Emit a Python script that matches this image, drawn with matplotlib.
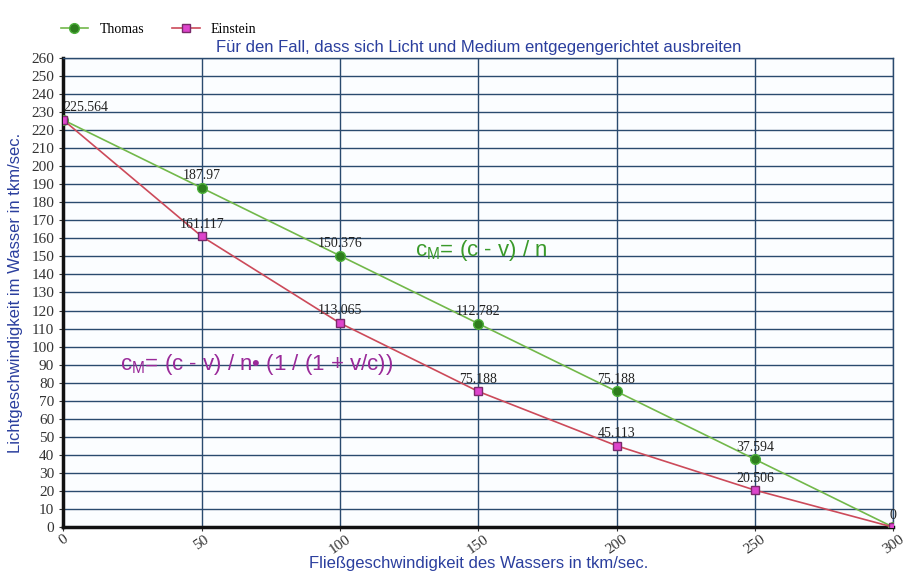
import matplotlib.pyplot as plt
import numpy as np

# Data
v = [0, 50, 100, 150, 200, 250, 300]
thomas = [225.564, 187.97, 150.376, 112.782, 75.188, 37.594, 0]
einstein = [225.564, 161.117, 113.065, 75.188, 45.113, 20.506, 0]
thomas_labels = ['225.564', '187.97', '150.376', '112.782', '75.188', '37.594', '0']
einstein_labels = ['', '161.117', '113.065', '75.188', '45.113', '20.506', '']

blue = '#2b3f9e'
grid_c = '#2a4a6e'

plt.rcParams['mathtext.fontset'] = 'custom'
plt.rcParams['mathtext.rm'] = 'Liberation Sans'
plt.rcParams['mathtext.it'] = 'Liberation Sans:italic'

fig = plt.figure(figsize=(9.17, 5.78), dpi=100)
ax = fig.add_axes([0.069, 0.088, 0.905, 0.812])
ax.set_facecolor('#fbfdff')

ax.set_xlim(0, 300)
ax.set_ylim(0, 260)
ax.set_xticks(np.arange(0, 301, 50))
ax.set_yticks(np.arange(0, 261, 10))
ax.grid(True, color=grid_c, linewidth=1.0)
ax.set_axisbelow(True)

ax.plot(v, thomas, color='#72b84a', linewidth=1.2, marker='o', markersize=7,
        markerfacecolor='#2e7d1e', markeredgecolor='#4caf3a', label='Thomas', zorder=3)
ax.plot(v, einstein, color='#cc4a5a', linewidth=1.2, marker='s', markersize=6,
        markerfacecolor='#dd44cc', markeredgecolor='#7a2a6a', label='Einstein', zorder=4)

for x, y, t in zip(v, thomas, thomas_labels):
    ax.annotate(t, (x, y), xytext=(0, 4), textcoords='offset points', ha='left' if x == 0 else 'center',
                va='bottom', fontsize=10, family='Liberation Serif', color='#222222', zorder=5)
for x, y, t in zip(v, einstein, einstein_labels):
    if t:
        ax.annotate(t, (x, y), xytext=(0, 4), textcoords='offset points', ha='center',
                    va='bottom', fontsize=10, family='Liberation Serif', color='#222222', zorder=5)

ax.text(127, 150, r'c$_{\mathrm{M}}$= (c - v) / n', color='#3a9a2a', fontsize=16, family='Liberation Sans')
ax.text(20.5, 87, 'c$_{\\mathrm{M}}$= (c - v) / n\u2022 (1 / (1 + v/c))', color='#9a2a9a', fontsize=16,
        family='Liberation Sans')

for lbl in ax.get_xticklabels():
    lbl.set_rotation(35)
    lbl.set_family('Liberation Serif')
    lbl.set_fontsize(11)
for lbl in ax.get_yticklabels():
    lbl.set_family('Liberation Serif')
    lbl.set_fontsize(11)
ax.tick_params(length=3, color='#333333', labelcolor='#333333')
ax.tick_params(axis='x', pad=1)

for s in ['left', 'bottom']:
    ax.spines[s].set_linewidth(2.5)
    ax.spines[s].set_color('#111111')
for s in ['top', 'right']:
    ax.spines[s].set_linewidth(1.0)
    ax.spines[s].set_color(grid_c)

ax.set_title('Für den Fall, dass sich Licht und Medium entgegengerichtet ausbreiten',
             color=blue, fontsize=12, family='Liberation Sans', pad=4)
ax.set_xlabel('Fließgeschwindigkeit des Wassers in tkm/sec.', color=blue, fontsize=12,
              family='Liberation Sans', labelpad=0)
ax.set_ylabel('Lichtgeschwindigkeit im Wasser in tkm/sec.', color=blue, fontsize=12,
              family='Liberation Sans', labelpad=6)

ax.legend(loc='lower left', bbox_to_anchor=(-0.01, 1.035), ncol=2, frameon=False,
          prop={'family': 'Liberation Serif', 'size': 10}, handlelength=2, columnspacing=2,
          borderaxespad=0)

fig.savefig('out.png', dpi=100)
